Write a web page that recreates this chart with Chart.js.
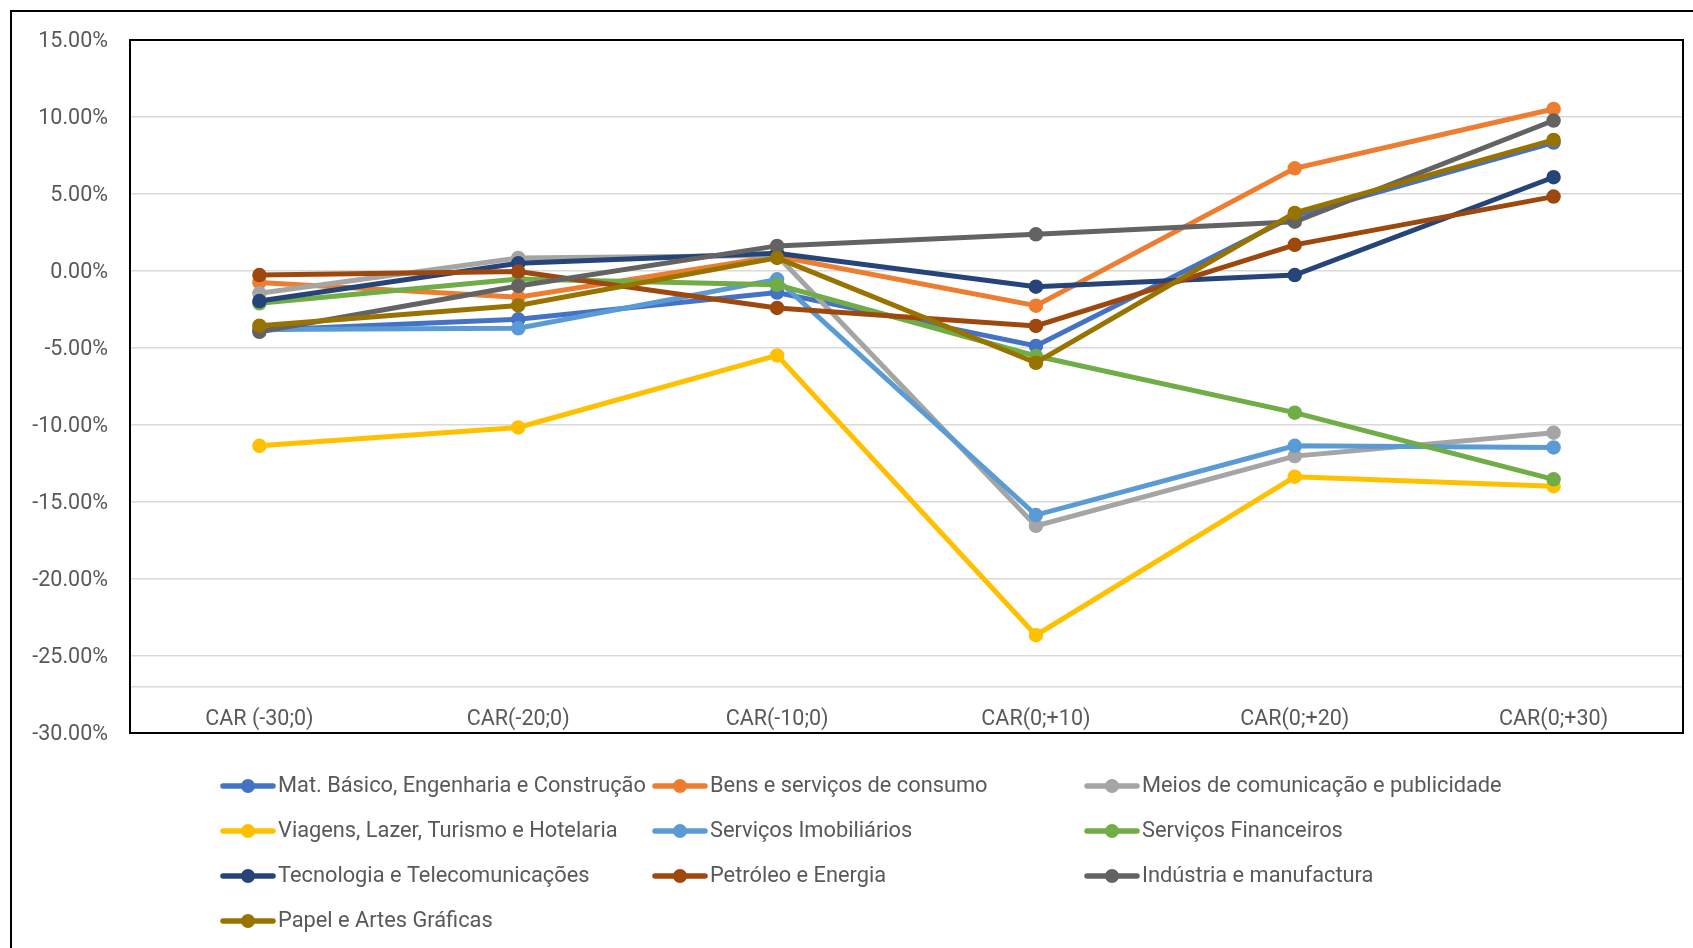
<!DOCTYPE html>
<html lang="pt">
<head>
<meta charset="utf-8">
<title>CAR por setor</title>
<script src="https://cdn.jsdelivr.net/npm/chart.js@4"></script>
<style>
  html, body { margin: 0; padding: 0; background: #ffffff; }
  #wrap { width: 1693px; height: 948px; position: relative; }
  canvas { display: block; }
</style>
</head>
<body>
<div id="wrap"><canvas id="chart" width="1693" height="948"></canvas></div>
<script>
// Event windows (categories)
const categories = ['CAR (-30;0)', 'CAR(-20;0)', 'CAR(-10;0)', 'CAR(0;+10)', 'CAR(0;+20)', 'CAR(0;+30)'];

// Y-axis ticks (percent)
const yTicks = [15, 10, 5, 0, -5, -10, -15, -20, -25, -30];

// Sector names, in legend order
const sectorNames = [
  'Mat. Básico, Engenharia e Construção',
  'Bens e serviços de consumo',
  'Meios de comunicação e publicidade',
  'Viagens, Lazer, Turismo e Hotelaria',
  'Serviços Imobiliários',
  'Serviços Financeiros',
  'Tecnologia e Telecomunicações',
  'Petróleo e Energia',
  'Indústria e manufactura',
  'Papel e Artes Gráficas'
];

// Cumulative abnormal returns per sector (%)
const matBasico     = [-3.85, -3.14, -1.40,  -4.87,   3.60,   8.34];
const bensConsumo   = [-0.74, -1.70,  0.95,  -2.25,   6.67,  10.52];
const meiosCom      = [-1.45,  0.85,  1.00, -16.55, -12.02, -10.50];
const viagens       = [-11.35, -10.16, -5.48, -23.65, -13.36, -13.97];
const servImob      = [-3.80, -3.72, -0.54, -15.85, -11.35, -11.46];
const servFin       = [-2.10, -0.52, -0.90,  -5.52,  -9.20, -13.53];
const tecnologia    = [-1.95,  0.50,  1.15,  -1.02,  -0.26,   6.09];
const petroleo      = [-0.26, -0.04, -2.40,  -3.57,   1.70,   4.83];
const industria     = [-3.95, -0.97,  1.63,   2.38,   3.20,   9.77];
const papel         = [-3.55, -2.24,  0.85,  -5.96,   3.77,   8.51];

const seriesValues = [matBasico, bensConsumo, meiosCom, viagens, servImob,
                      servFin, tecnologia, petroleo, industria, papel];

const seriesColors = ['#4472C4', '#ED7D31', '#A5A5A5', '#FFC000', '#5B9BD5',
                      '#70AD47', '#264478', '#9E480E', '#636363', '#997300'];

const FONT = 'Roboto, "Open Sans", sans-serif';
const TEXT = '#595959';
const GRID = '#D9D9D9';

const datasets = sectorNames.map((name, i) => ({
  label: name,
  data: seriesValues[i],
  borderColor: seriesColors[i],
  backgroundColor: seriesColors[i],
  pointBackgroundColor: seriesColors[i],
  pointBorderColor: seriesColors[i],
  borderWidth: 5,
  pointRadius: 6.5,
  pointBorderWidth: 1.5,
  tension: 0,
  fill: false,
  order: -i            // later series painted on top
}));

// Frames: outer chart frame and the plot-area box
const framePlugin = {
  id: 'frames',
  afterDraw(chart) {
    const { ctx, chartArea: a } = chart;
    ctx.save();
    ctx.strokeStyle = '#000000';
    ctx.lineWidth = 2;
    ctx.strokeRect(a.left, a.top, a.right - a.left, a.bottom - a.top);
    ctx.beginPath();
    ctx.moveTo(11, chart.height);
    ctx.lineTo(11, 11);
    ctx.lineTo(chart.width, 11);
    ctx.stroke();
    ctx.restore();
  }
};

// Legend laid out in a three-column grid below the plot
const gridLegendPlugin = {
  id: 'gridLegend',
  afterDraw(chart) {
    const { ctx } = chart;
    const x0 = 221, y0 = 786, colW = 432, rowH = 45;
    ctx.save();
    ctx.font = '21.8px ' + FONT;
    ctx.textBaseline = 'middle';
    ctx.textAlign = 'left';
    chart.data.datasets.forEach((ds, i) => {
      const x = x0 + (i % 3) * colW;
      const y = y0 + Math.floor(i / 3) * rowH;
      ctx.strokeStyle = ds.borderColor;
      ctx.lineWidth = 5.5;
      ctx.lineCap = 'round';
      ctx.beginPath();
      ctx.moveTo(x + 2, y);
      ctx.lineTo(x + 52, y);
      ctx.stroke();
      ctx.fillStyle = ds.borderColor;
      ctx.beginPath();
      ctx.arc(x + 27, y, 7, 0, Math.PI * 2);
      ctx.fill();
      ctx.fillStyle = TEXT;
      ctx.fillText(ds.label, x + 57, y + 1);
    });
    ctx.restore();
  }
};

new Chart(document.getElementById('chart'), {
  type: 'line',
  data: { labels: categories, datasets },
  options: {
    responsive: false,
    animation: false,
    layout: { padding: { left: 0, right: 10, top: 40, bottom: 215 } },
    plugins: {
      legend: { display: false },
      tooltip: { enabled: false }
    },
    scales: {
      x: {
        type: 'category',
        offset: true,
        position: { y: -27 },
        grid: { display: false, drawTicks: false },
        border: { display: true, color: GRID, width: 1.5 },
        ticks: {
          color: TEXT,
          font: { family: FONT, size: 21.5 },
          padding: 20,
          maxRotation: 0,
          autoSkip: false
        }
      },
      y: {
        min: Math.min(...yTicks),
        max: Math.max(...yTicks),
        afterFit(scale) { scale.width = 130; },
        afterBuildTicks(scale) { scale.ticks = yTicks.map(v => ({ value: v })); },
        grid: { color: GRID, lineWidth: 1.5, drawTicks: false },
        border: { display: false },
        ticks: {
          color: TEXT,
          font: { family: FONT, size: 21.5 },
          padding: 22,
          labelOffset: 2,
          callback: v => v.toFixed(2) + '%'
        }
      }
    }
  },
  plugins: [framePlugin, gridLegendPlugin]
});
</script>
</body>
</html>
